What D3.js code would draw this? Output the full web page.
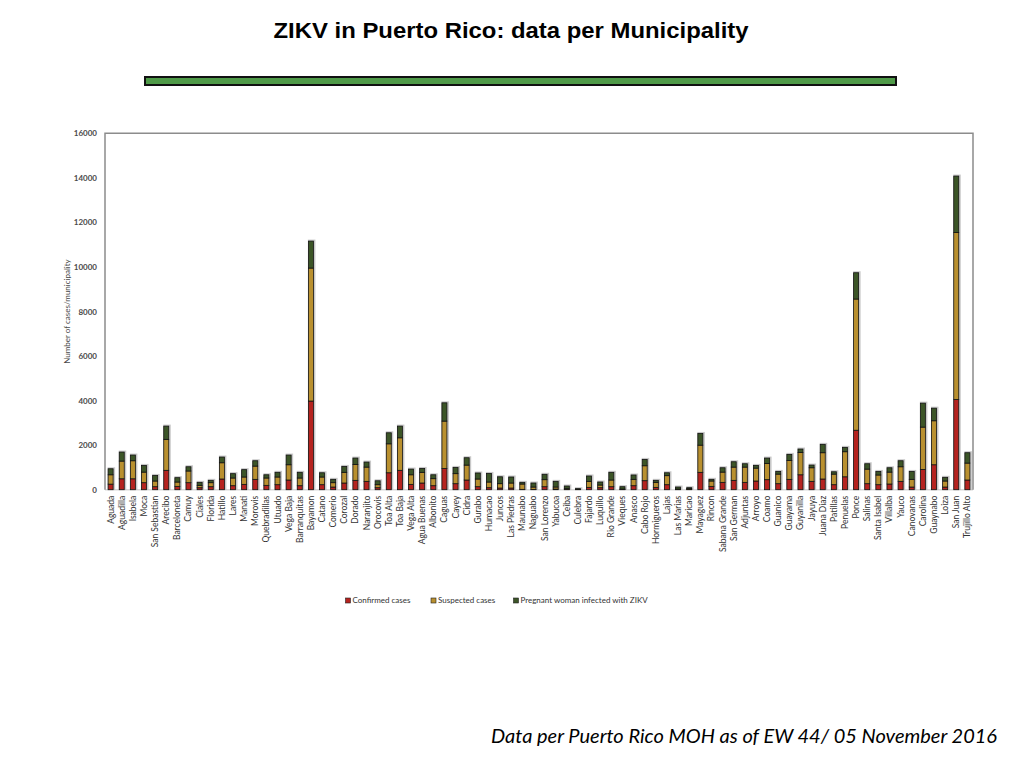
<!DOCTYPE html>
<html>
<head>
<meta charset="utf-8">
<script src="https://cdn.jsdelivr.net/npm/d3@7"></script>
<style>
  body { margin: 0; background: #fff; }
  svg { display: block; }
</style>
</head>
<body>
<svg id="chart" width="1024" height="768"></svg>
<script>
// Municipalities, in the order they appear on the x axis
const municipalities = [
  "Aguada", "Aguadilla", "Isabela", "Moca", "San Sebastian", "Arecibo", "Barceloneta",
  "Camuy", "Ciales", "Florida", "Hatillo", "Lares", "Manati", "Morovis", "Quebradillas",
  "Utuado", "Vega Baja", "Barranquitas", "Bayamon", "Catano", "Comerio", "Corozal",
  "Dorado", "Naranjito", "Orocovis", "Toa Alta", "Toa Baja", "Vega Alta", "Agua Buenas",
  "Albonito", "Caguas", "Cayey", "Cidra", "Gurabo", "Humacao", "Juncos", "Las Piedras",
  "Maunabo", "Naguabo", "San Lorenzo", "Yabucoa", "Ceiba", "Culebra", "Fajardo",
  "Luquillo", "Rio Grande", "Vieques", "Anasco", "Cabo Rojo", "Hormigueros", "Lajas",
  "Las Marias", "Maricao", "Mayaguez", "Rincon", "Sabana Grande", "San German",
  "Adjuntas", "Arroyo", "Coamo", "Guanico", "Guayama", "Guyanilla", "Jayuya",
  "Juana Diaz", "Patillas", "Penuelas", "Ponce", "Salinas", "Santa Isabel", "Villalba",
  "Yauco", "Canovanas", "Carolina", "Guaynabo", "Loiza", "San Juan", "Trujillo Alto",
];

// Series values
const confirmed = [
  250, 490, 490, 315, 135, 870, 150, 315, 90, 135, 480, 180, 240, 465, 195,
  225, 435, 180, 3980, 225, 120, 300, 420, 375, 90, 760, 870, 240, 300,
  180, 955, 270, 435, 135, 90, 75, 75, 15, 15, 135, 30, 15, 10, 105,
  90, 135, 10, 180, 405, 105, 225, 15, 10, 780, 150, 330, 420,
  330, 390, 450, 270, 465, 670, 375, 480, 225, 580, 2670, 270, 225, 255,
  375, 120, 910, 1120, 120, 4050, 435,
];
const suspected = [
  420, 795, 810, 475, 255, 1390, 195, 525, 105, 180, 730, 345, 330, 595, 330,
  345, 685, 345, 5970, 345, 195, 480, 715, 640, 135, 1300, 1460, 430, 480,
  315, 2125, 450, 670, 345, 255, 195, 225, 240, 105, 315, 90, 45, 15, 270,
  120, 300, 20, 285, 670, 225, 405, 15, 35, 1220, 240, 460, 595,
  685, 580, 730, 430, 850, 1005, 610, 1180, 475, 1125, 5890, 655, 435, 535,
  655, 345, 1900, 1975, 270, 7500, 760,
];
const pregnant = [
  270, 405, 255, 300, 250, 595, 195, 190, 135, 105, 255, 195, 330, 240, 145,
  210, 435, 255, 1210, 190, 150, 265, 285, 225, 175, 495, 525, 255, 175,
  175, 820, 280, 330, 270, 385, 310, 270, 75, 180, 240, 255, 105, 20, 240,
  135, 345, 105, 195, 285, 90, 130, 90, 45, 525, 75, 195, 240,
  150, 120, 240, 120, 270, 150, 120, 375, 105, 195, 1180, 240, 160, 195,
  270, 355, 1075, 565, 165, 2530, 465,
];

const seriesNames = ["Confirmed cases", "Suspected cases", "Pregnant woman infected with ZIKV"];
const seriesColors = ["#b5231f", "#b9902f", "#3c5527"];
const yTicks = [0, 2000, 4000, 6000, 8000, 10000, 12000, 14000, 16000];

const rows = municipalities.map((m, i) => ({
  name: m,
  confirmed: confirmed[i],
  suspected: suspected[i],
  pregnant: pregnant[i],
}));

const svg = d3.select("#chart");

// -- Title and decoration -- //
svg.append("text")
  .attr("x", 511).attr("y", 38)
  .attr("text-anchor", "middle")
  .attr("font-family", "Liberation Sans, Arial, sans-serif")
  .attr("font-weight", "bold")
  .attr("font-size", 22)
  .attr("textLength", 475)
  .attr("lengthAdjust", "spacingAndGlyphs")
  .attr("fill", "#000")
  .text("ZIKV in Puerto Rico: data per Municipality");

svg.append("rect")
  .attr("x", 145).attr("y", 77)
  .attr("width", 751).attr("height", 8)
  .attr("fill", "#4f9a48")
  .attr("stroke", "#111")
  .attr("stroke-width", 2);

svg.append("text")
  .attr("x", 997).attr("y", 743)
  .attr("text-anchor", "end")
  .attr("font-family", "Lato, Liberation Sans, sans-serif")
  .attr("font-style", "italic")
  .attr("font-size", 19)
  .attr("textLength", 506)
  .attr("lengthAdjust", "spacingAndGlyphs")
  .attr("fill", "#000")
  .text("Data per Puerto Rico MOH as of EW 44/ 05 November 2016");

// -- Chart -- //
const plot = { left: 105, right: 973, top: 133.3, bottom: 489.7 };

const x = d3.scaleBand()
  .domain(municipalities)
  .range([plot.left, plot.right])
  .paddingInner(0.55)
  .paddingOuter(0.28);

const y = d3.scaleLinear()
  .domain([0, 16000])
  .range([plot.bottom, plot.top]);

const stack = d3.stack().keys(["confirmed", "suspected", "pregnant"]);
const layers = stack(rows);

// plot frame
svg.append("line")
  .attr("x1", plot.left).attr("x2", plot.right)
  .attr("y1", plot.bottom).attr("y2", plot.bottom)
  .attr("stroke", "#d9d9d9").attr("stroke-width", 1.5);

svg.append("path")
  .attr("d", `M${plot.left},${plot.bottom}V${plot.top}H${plot.right}V${plot.bottom}`)
  .attr("fill", "none")
  .attr("stroke", "#8c8c8c")
  .attr("stroke-width", 1.5);

// y axis labels
const yAxis = svg.append("g")
  .attr("transform", `translate(${plot.left},0)`)
  .call(d3.axisLeft(y).tickValues(yTicks).tickSize(0).tickPadding(8).tickFormat(d3.format("d")));
yAxis.select(".domain").remove();
yAxis.selectAll("text")
  .attr("font-family", "Lato, Liberation Sans, sans-serif")
  .attr("font-weight", "bold")
  .attr("font-size", 8)
  .attr("fill", "#4a4a4a");

svg.append("text")
  .attr("transform", `translate(70,${(plot.top + plot.bottom) / 2}) rotate(-90)`)
  .attr("text-anchor", "middle")
  .attr("font-family", "Lato, Liberation Sans, sans-serif")
  .attr("font-size", 8)
  .attr("fill", "#4a4a4a")
  .text("Number of cases/municipality");

// bar shadows
svg.append("g").selectAll("rect")
  .data(rows)
  .join("rect")
  .attr("x", d => x(d.name) - 0.5)
  .attr("y", d => y(d.confirmed + d.suspected + d.pregnant) - 1.5)
  .attr("width", x.bandwidth() + 2.5)
  .attr("height", d => plot.bottom - y(d.confirmed + d.suspected + d.pregnant) + 1.5)
  .attr("fill", "#9a9a9a")
  .attr("opacity", 0.55);

// stacked bars
svg.append("g").selectAll("g")
  .data(layers)
  .join("g")
  .attr("fill", (d, i) => seriesColors[i])
  .selectAll("rect")
  .data(d => d)
  .join("rect")
  .attr("x", d => x(d.data.name))
  .attr("y", d => y(d[1]))
  .attr("width", x.bandwidth())
  .attr("height", d => y(d[0]) - y(d[1]))
  .attr("stroke", "#141414")
  .attr("stroke-width", 0.8);

// x labels
const xAxis = svg.append("g")
  .attr("transform", `translate(0,${plot.bottom})`)
  .call(d3.axisBottom(x).tickSize(0).tickPadding(0));
xAxis.select(".domain").remove();
xAxis.selectAll("text")
  .attr("transform", "translate(0,6) rotate(-90)")
  .attr("text-anchor", "end")
  .attr("dy", "0.35em")
  .attr("y", 0)
  .attr("x", 0)
  .attr("font-family", "Lato, Liberation Sans, sans-serif")
  .attr("font-size", 8.5)
  .attr("fill", "#333");

// legend
const legendX = [345.5, 431, 513.5];
const legend = svg.append("g").selectAll("g")
  .data(seriesNames)
  .join("g")
  .attr("transform", (d, i) => `translate(${legendX[i]},598)`);
legend.append("rect")
  .attr("width", 5).attr("height", 5)
  .attr("fill", (d, i) => seriesColors[i])
  .attr("stroke", "#222").attr("stroke-width", 0.6);
legend.append("text")
  .attr("x", 7).attr("y", 2.5)
  .attr("dy", "0.35em")
  .attr("font-family", "Lato, Liberation Sans, sans-serif")
  .attr("font-size", 8)
  .attr("fill", "#333")
  .text(d => d);
</script>
</body>
</html>
